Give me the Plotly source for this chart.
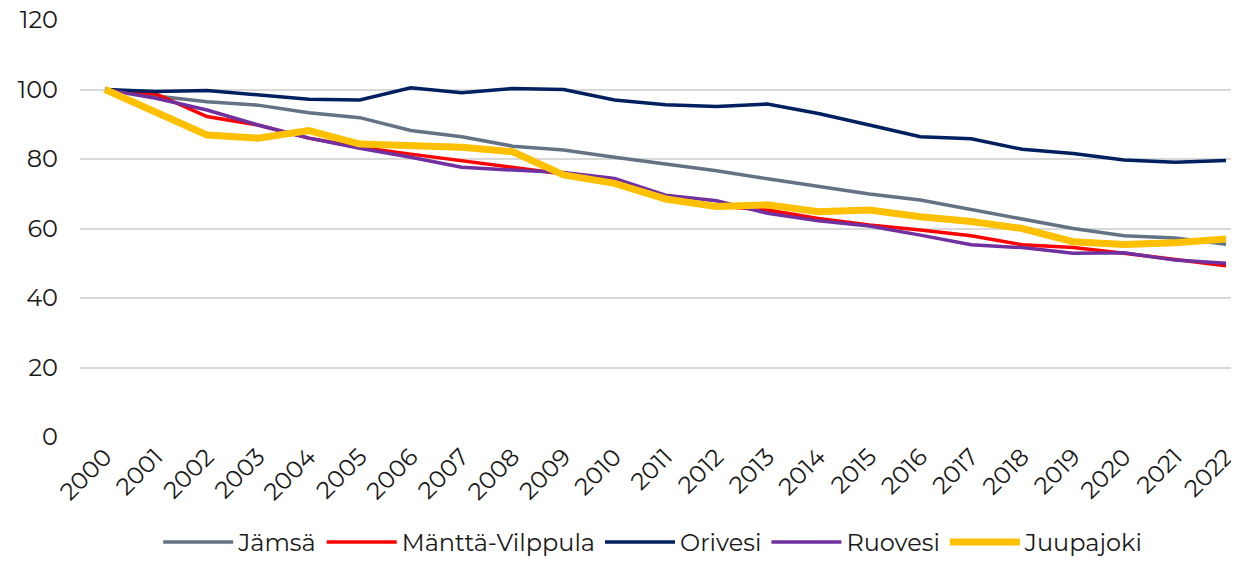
import plotly.graph_objects as go

years = list(range(2000, 2023))

jamsa = [100, 98.1, 96.5, 95.5, 93.3, 91.9, 88.2, 86.4, 83.7, 82.6, 80.5, 78.6,
         76.6, 74.3, 72.0, 69.9, 68.2, 65.5, 62.9, 60.0, 57.9, 57.3, 55.5]
mantta = [100, 98.7, 92.2, 89.8, 86.0, 83.4, 81.4, 79.5, 77.8, 75.7, 73.3, 69.0,
          66.5, 65.3, 62.9, 61.0, 59.6, 57.9, 55.3, 54.5, 52.9, 51.1, 49.3]
orivesi = [100, 99.4, 99.7, 98.4, 97.2, 97.0, 100.5, 99.1, 100.3, 100.0, 97.0, 95.6,
           95.1, 95.8, 93.1, 89.8, 86.4, 85.8, 82.8, 81.6, 79.7, 79.1, 79.6]
ruovesi = [100, 97.5, 94.1, 89.8, 86.0, 83.1, 80.5, 77.6, 76.8, 76.1, 74.4, 69.6,
           68.0, 64.4, 62.2, 60.7, 58.1, 55.3, 54.5, 52.9, 53.0, 50.9, 50.0]
juupajoki = [100, 93.2, 86.9, 86.0, 88.2, 84.3, 83.7, 83.4, 82.1, 75.4, 73.0, 68.5,
             66.3, 66.8, 64.8, 65.3, 63.4, 62.0, 60.0, 56.2, 55.4, 55.9, 57.0]

series = [
    ("Jämsä", jamsa, "#637383", 3.5),
    ("Mänttä-Vilppula", mantta, "#FF0000", 3.5),
    ("Orivesi", orivesi, "#002060", 3.5),
    ("Ruovesi", ruovesi, "#7030A0", 3.5),
    ("Juupajoki", juupajoki, "#FFC000", 7),
]

fig = go.Figure()
for name, vals, color, w in series:
    fig.add_trace(go.Scatter(x=years, y=vals, mode="lines", name=name,
                             line=dict(color=color, width=w)))

font_family = "Montserrat, Open Sans, sans-serif"
fs = 24

# page has an 8px body margin, so the figure is sized to fit the 1239x567 window
fig.update_layout(
    width=1223, height=551,
    margin=dict(l=72, r=0, t=12, b=122, autoexpand=False),
    plot_bgcolor="white", paper_bgcolor="white",
    font=dict(family=font_family, size=fs, color="#1a1a1a"),
    showlegend=True,
    legend=dict(orientation="h", x=0.498, xanchor="center",
                yref="container", y=0.03, yanchor="middle",
                font=dict(size=fs), itemwidth=70, tracegroupgap=0),
    xaxis=dict(
        range=[1999.509, 2022.098], automargin=False, ticklabeloverflow="allow",
        tickmode="array", tickvals=years, ticktext=[str(y) for y in years],
        tickangle=-45, showgrid=False, zeroline=False, showline=False,
        ticks="", tickfont=dict(size=fs),
    ),
    yaxis=dict(
        range=[0, 120], tickvals=[0, 20, 40, 60, 80, 100, 120], automargin=False,
        ticklabeloverflow="allow",
        showgrid=True, gridcolor="#D9D9D9", gridwidth=1.5,
        zeroline=False, showline=False, ticks="", ticklabelstandoff=21,
        tickfont=dict(size=fs),
    ),
)

fig.write_html("out.html")
